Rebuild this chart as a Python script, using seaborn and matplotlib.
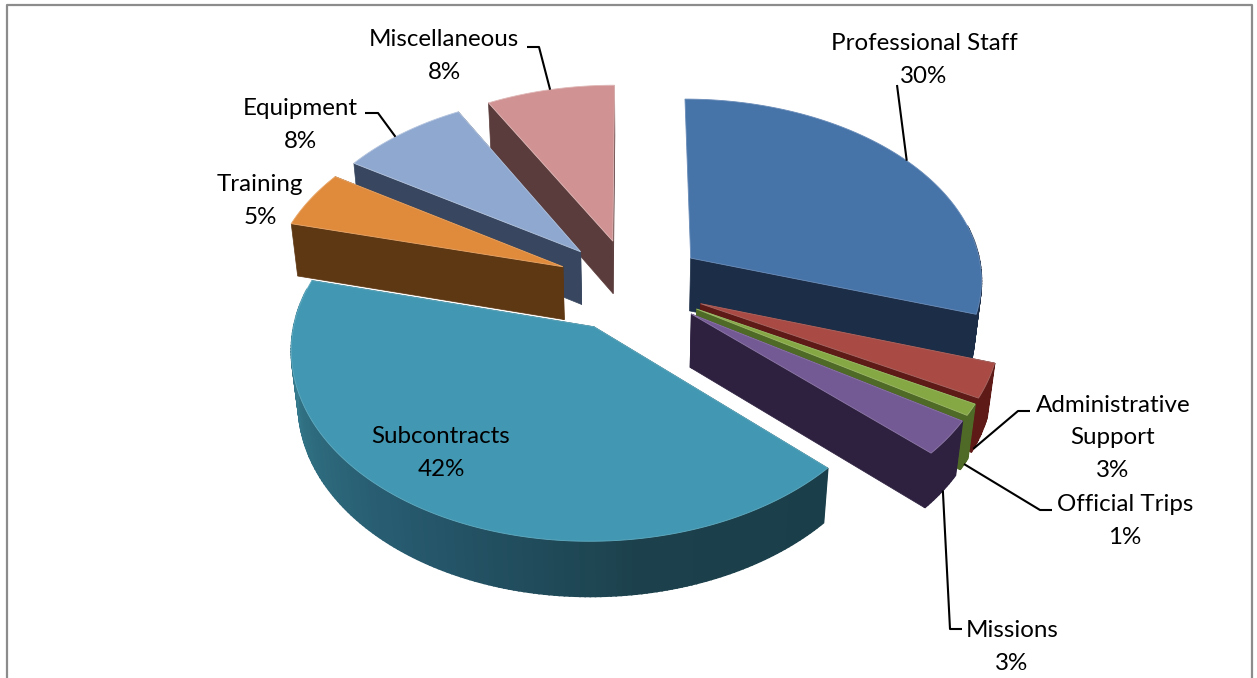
import numpy as np
import matplotlib
matplotlib.use("Agg")
import matplotlib.pyplot as plt
import seaborn as sns

# Data, clockwise from 12 o'clock
categories = ["Professional Staff", "Administrative\nSupport", "Official Trips", "Missions",
              "Subcontracts", "Training", "Equipment", "Miscellaneous"]
shares = [30, 3, 1, 3, 42, 5, 8, 8]

# Colours
top_colors = ["#4674a9", "#aa4a44", "#86a844", "#745a95", "#4298b2", "#e08a3c", "#8fa8d0", "#d09292"]
side_colors = ["#1b2d47", "#5e1a16", "#4f6a26", "#2e2140", "#1b3f4a", "#5e3713", "#38475f", "#5b3c3c"]
edge_colors = ["#6a8cb8", "#a86a66", "#9db86a", "#8f7aa8", "#62acc2", "#eaa86a", "#b5c5de", "#e0b8b8"]

# Slices are painted back to front
draw_order = [7, 6, 4, 5, 0, 1, 2, 3]

# Projection settings (pixels)
CX, CY = 631, 285
RADIUS = 293
EXPLODE = 75
DEPTH = 69
CAMERA = 2130
TILT = np.arcsin(0.62)

sns.set_theme(style="white")
plt.rcParams["font.family"] = ["Lato", "DejaVu Sans"]

edges = np.cumsum([0] + shares) / sum(shares) * 2 * np.pi


def project(x, y, z):
    w = -y * np.cos(TILT) + z * np.sin(TILT)
    s = CAMERA / (CAMERA - w)
    return CX + s * x, CY - s * (y * np.sin(TILT) + z * np.cos(TILT))


def slice_point(i, frac, zfrac=0.0, radius=RADIUS):
    # point of slice i: frac along its arc, zfrac down its side
    mid = (edges[i] + edges[i + 1]) / 2
    ang = edges[i] + frac * (edges[i + 1] - edges[i])
    x = EXPLODE * np.sin(mid) + radius * np.sin(ang)
    y = EXPLODE * np.cos(mid) + radius * np.cos(ang)
    return project(x, y, -DEPTH * zfrac)


def draw_slice(ax, i):
    n = max(int(shares[i] * 4), 8)
    fracs = np.linspace(0, 1, n + 1)
    apex_top = slice_point(i, 0, 0, 0)
    apex_bot = slice_point(i, 0, 1, 0)

    # cut faces (the first slice's start face is turned away in the original)
    for f in (0, 1):
        if i == 0 and f == 0:
            continue
        rt = slice_point(i, f, 0)
        rb = slice_point(i, f, 1)
        ax.fill([apex_top[0], rt[0], rb[0], apex_bot[0]], [apex_top[1], rt[1], rb[1], apex_bot[1]],
                color=side_colors[i], lw=0.5, zorder=i_z[i])

    # outer side, shaded only on the big slice; the far part of the rim stays hidden
    if i == 4:
        shades = sns.blend_palette(["#1b3f4a", "#1c414c", "#25566a", "#2f6d80", "#3f8aa0"], n)
    else:
        shades = [side_colors[i]] * n
    for k in range(n):
        ang = edges[i] + fracs[k] * (edges[i + 1] - edges[i])
        if np.cos(ang) > 0.2:
            continue
        a = slice_point(i, fracs[k], 0)
        b = slice_point(i, fracs[k + 1], 0)
        c = slice_point(i, fracs[k + 1], 1)
        d = slice_point(i, fracs[k], 1)
        ax.fill([a[0], b[0], c[0], d[0]], [a[1], b[1], c[1], d[1]],
                color=shades[k], lw=1.2, zorder=i_z[i])

    # top face
    rim = [slice_point(i, f, 0) for f in fracs]
    xs = [apex_top[0]] + [p[0] for p in rim]
    ys = [apex_top[1]] + [p[1] for p in rim]
    ax.fill(xs, ys, facecolor=top_colors[i], edgecolor=edge_colors[i], lw=0.6, zorder=i_z[i] + 0.5)


i_z = {s: 2 + n for n, s in enumerate(draw_order)}

fig = plt.figure(figsize=(12.57, 6.78), dpi=100)
ax = fig.add_axes([0, 0, 1, 1])
ax.set_xlim(0, 1257)
ax.set_ylim(678, 0)
ax.axis("off")

# chart frame, cut by the bottom of the picture
ax.plot([7, 7, 1252, 1252], [678, 5, 5, 678], color="#8c8c8c", lw=1.6, zorder=1)

for idx in draw_order:
    draw_slice(ax, idx)

# Labels: slice -> (centre x, centre y)
label_pos = {0: (924, 60), 1: (1113, 438), 2: (1125, 521), 3: (1012, 647),
             4: (441, 453), 5: (260, 201), 6: (300, 125), 7: (444, 56)}
for i, (lx, ly) in label_pos.items():
    ax.text(lx, ly, f"{categories[i]}\n{shares[i]}%", ha="center", va="center",
            fontsize=17.4, linespacing=1.68, color="black", zorder=30)

# Leader lines: slice -> (elbow points, frac along arc, frac down side)
leaders = {0: ([(897, 85)], 0.5, 0),
           1: ([(1030, 411), (1018, 411)], 0.9, 1),
           2: ([(1052, 510), (1040, 510)], 0.5, 1),
           3: ([(962, 629), (950, 629)], 0.45, 1),
           6: ([(365, 113), (378, 113)], 0.44, 0),
           7: ([(527, 47), (539, 47)], 0.5, 0)}
for i, (elbows, frac, zfrac) in leaders.items():
    end = slice_point(i, frac, zfrac)
    ax.plot([p[0] for p in elbows] + [end[0]], [p[1] for p in elbows] + [end[1]],
            color="black", lw=1.5, zorder=31, solid_capstyle="butt")

fig.savefig("out.png", dpi=100)
